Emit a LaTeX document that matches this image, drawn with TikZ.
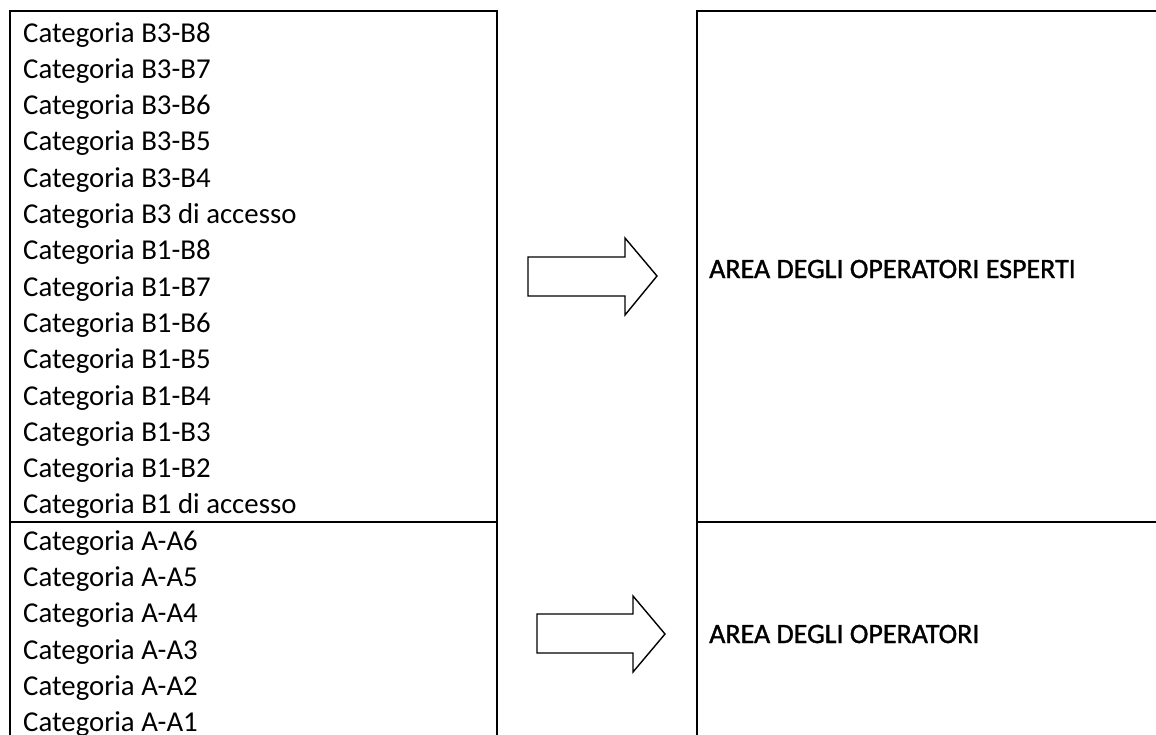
\documentclass[tikz,border=0pt]{standalone}
\usepackage{fontspec}
\setmainfont{Carlito}
\newfontfamily\areafont[FakeBold=1.2]{Carlito}
\begin{document}
\begin{tikzpicture}[x=1pt,y=-1pt,
  frame/.style={line width=1.4pt},
  blockarrow/.style={line width=1.4pt, line join=miter, fill=white},
  cat/.style={anchor=base west, inner sep=0pt, font=\fontsize{28.8}{34}\selectfont},
  area/.style={anchor=base west, inner sep=0pt, font=\areafont\fontsize{28}{34}\selectfont}]
\useasboundingbox (0,0) rectangle (1156,734);
% frames
\draw[frame] (10,740) -- (10,11) -- (497,11) -- (497,740);
\draw[frame] (10,522) -- (497,522);
\draw[frame] (1160,11) -- (697,11) -- (697,740);
\draw[frame] (697,522) -- (1160,522);
% category list
\foreach \t [count=\i from 0] in {Categoria B3-B8,Categoria B3-B7,Categoria B3-B6,Categoria B3-B5,Categoria B3-B4,Categoria B3 di accesso,Categoria B1-B8,Categoria B1-B7,Categoria B1-B6,Categoria B1-B5,Categoria B1-B4,Categoria B1-B3,Categoria B1-B2,Categoria B1 di accesso,Categoria A-A6,Categoria A-A5,Categoria A-A4,Categoria A-A3,Categoria A-A2,Categoria A-A1}
  \node[cat] (c\i) at (23,{42+\i*36.3}) {\t};
% arrows
\draw[blockarrow] (528,257) -- (625,257) -- (625,238) -- (657,276) -- (625,315) -- (625,296) -- (528,296) -- cycle;
\draw[blockarrow] (537,614) -- (633,614) -- (633,596) -- (665,634) -- (633,672) -- (633,653) -- (537,653) -- cycle;
% areas
\node[area] (esperti) at (709,278) {AREA DEGLI OPERATORI ESPERTI};
\node[area] (operatori) at (709,643) {AREA DEGLI OPERATORI};
\end{tikzpicture}
\end{document}
